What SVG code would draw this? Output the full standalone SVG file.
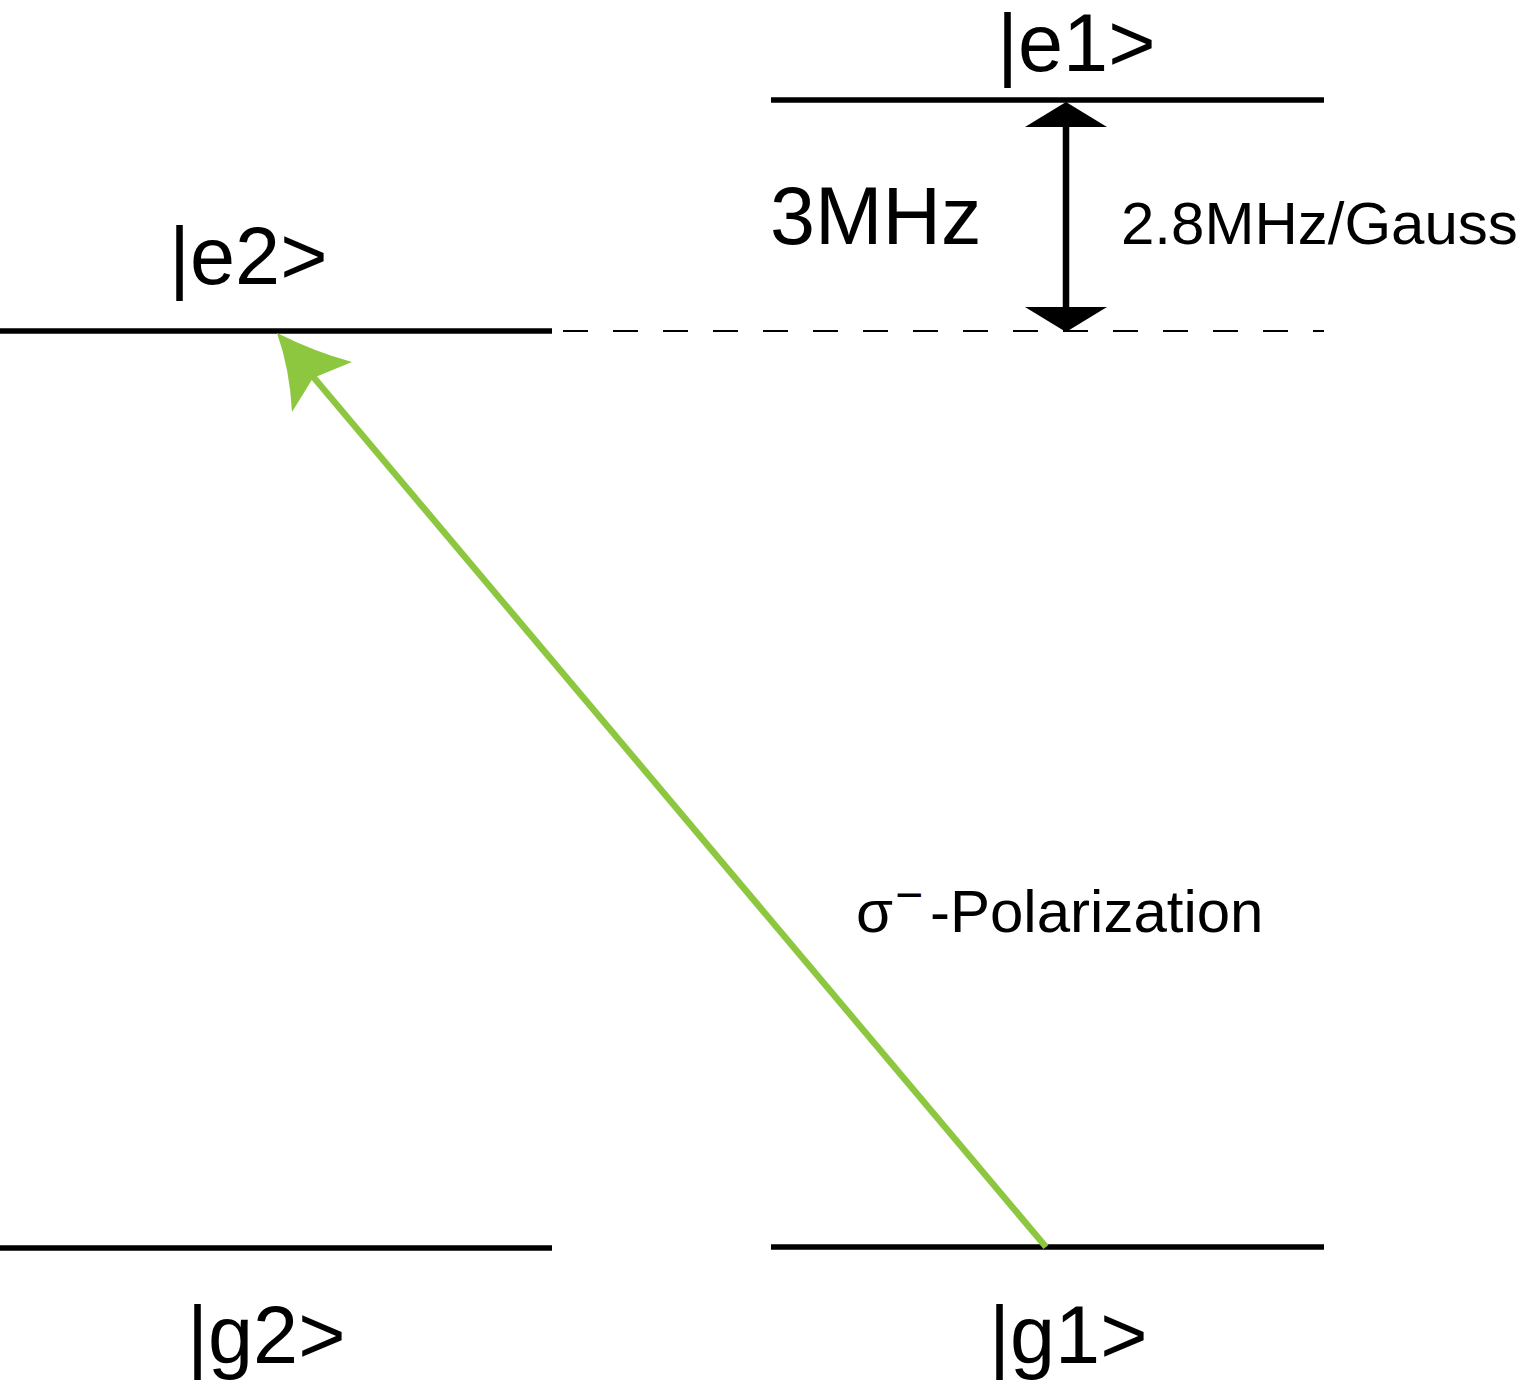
<svg xmlns="http://www.w3.org/2000/svg" width="1521" height="1388" viewBox="0 0 1521 1388">
<style>
.lvl{stroke:#000;stroke-width:5.5;fill:none}
.lbl{font-family:"Liberation Sans",Arial,sans-serif;fill:#000}
.big{font-size:81px}
.mid{font-size:60px}
</style>
<rect width="1521" height="1388" fill="#fff"/>
<g id="e1"><line class="lvl" x1="771" y1="100" x2="1324" y2="100"/><text class="lbl big" x="997" y="71">|e1&gt;</text></g>
<g id="e2"><line class="lvl" x1="0" y1="331" x2="552" y2="331"/><text class="lbl big" x="169" y="284">|e2&gt;</text></g>
<g id="g2"><line class="lvl" x1="0" y1="1248" x2="552" y2="1248"/><text class="lbl big" x="187" y="1363">|g2&gt;</text></g>
<g id="g1"><line class="lvl" x1="771" y1="1247" x2="1324" y2="1247"/><text class="lbl big" x="989" y="1363">|g1&gt;</text></g>
<g id="labels">
<text class="lbl big" x="770" y="244">3MHz</text>
<text class="lbl mid" x="1121" y="244">2.8MHz/Gauss</text>
<text class="lbl mid" x="856" y="932">σ<tspan x="895" y="911" font-size="48">−</tspan><tspan x="930" y="932">-Polarization</tspan></text>
</g>
<g id="connectors">
<line x1="563" y1="331" x2="1324" y2="331" stroke="#000" stroke-width="2" stroke-dasharray="25 25"/>
<line x1="1066" y1="125" x2="1066" y2="309" stroke="#000" stroke-width="6.5"/>
<polygon points="1066,102 1107,127 1025,127" fill="#000"/>
<polygon points="1066,332 1107,307 1025,307" fill="#000"/>
<line x1="1046" y1="1247" x2="310" y2="373" stroke="#8DC63F" stroke-width="6.5"/>
<path d="M277,333 Q315,352 352,362 L313,378 L292,412 Q290,370 277,333 Z" fill="#8DC63F"/>
</g>
</svg>
